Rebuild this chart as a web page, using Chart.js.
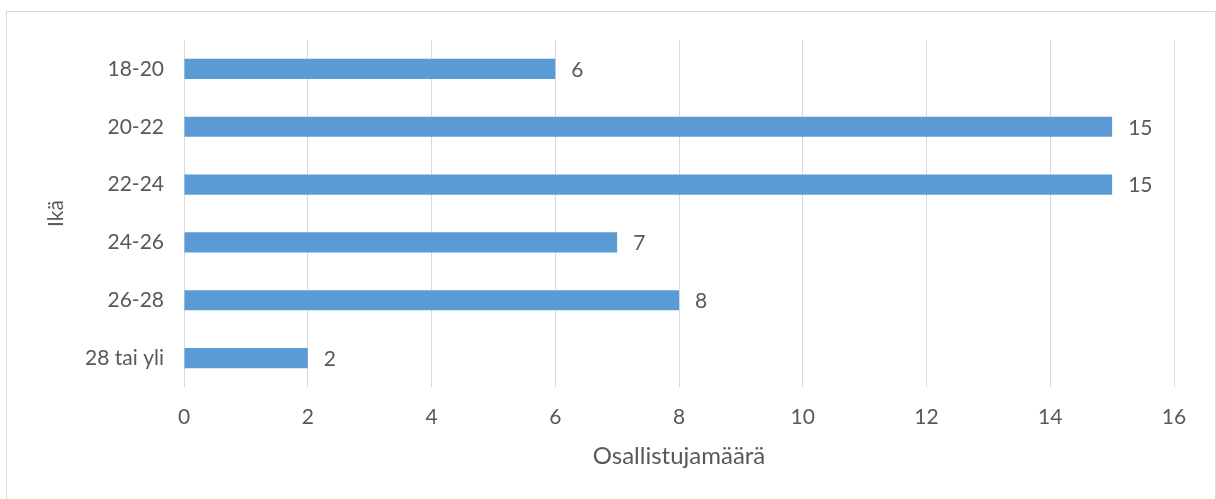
<!DOCTYPE html>
<html>
<head>
<meta charset="utf-8">
<script src="https://cdn.jsdelivr.net/npm/chart.js@4/dist/chart.umd.min.js"></script>
<style>
  html, body { margin: 0; padding: 0; background: #fff; overflow: hidden; }
  #frame {
    position: absolute; left: 6px; top: 11px;
    width: 1208px; height: 488px;
    border: 1px solid #d9d9d9;
  }
</style>
</head>
<body>
<div id="frame"><canvas id="ageChart" width="1208" height="488"></canvas></div>
<script>
const ageGroups = ['18-20', '20-22', '22-24', '24-26', '26-28', '28 tai yli'];
const participants = [6, 15, 15, 7, 8, 2];
const xTicksMax = 16;
const xTickStep = 2;

const textColor = '#595959';
const fontFamily = 'Lato, "Open Sans", sans-serif';

// value labels at bar ends
const barValueLabels = {
    id: 'barValueLabels',
    afterDatasetsDraw(chart) {
        const ctx = chart.ctx;
        const meta = chart.getDatasetMeta(0);
        ctx.save();
        ctx.font = '21px ' + fontFamily;
        ctx.fillStyle = textColor;
        ctx.textAlign = 'left';
        ctx.textBaseline = 'middle';
        meta.data.forEach((bar, i) => {
            ctx.fillText(String(participants[i]), bar.x + 16, bar.y + 1);
        });
        ctx.restore();
    }
};

new Chart(document.getElementById('ageChart'), {
    type: 'bar',
    data: {
        labels: ageGroups,
        datasets: [{
            label: 'Osallistujamäärä',
            data: participants,
            backgroundColor: '#5b9bd5',
            barPercentage: 0.35,
            categoryPercentage: 1
        }]
    },
    plugins: [barValueLabels],
    options: {
        indexAxis: 'y',
        responsive: false,
        animation: false,
        layout: { padding: { left: 0, right: 41, top: 28, bottom: 0 } },
        plugins: {
            legend: { display: false },
            tooltip: { enabled: false }
        },
        scales: {
            x: {
                min: 0,
                max: xTicksMax,
                ticks: {
                    stepSize: xTickStep,
                    color: textColor,
                    font: { family: fontFamily, size: 21 },
                    padding: 18
                },
                grid: { color: '#d9d9d9', lineWidth: 1, drawTicks: false },
                border: { display: false },
                title: {
                    display: true,
                    text: 'Osallistujamäärä',
                    color: textColor,
                    font: { family: fontFamily, size: 24 },
                    padding: { top: 0, bottom: 29 }
                },
                afterFit(scale) {
                    scale.height = 113;
                    scale.paddingLeft = 0;
                    scale.paddingRight = 0;
                }
            },
            y: {
                ticks: {
                    color: textColor,
                    font: { family: fontFamily, size: 21 },
                    padding: 20
                },
                grid: { display: false, drawTicks: false },
                border: { display: false },
                title: {
                    display: true,
                    text: 'Ikä',
                    color: textColor,
                    font: { family: fontFamily, size: 21 },
                    padding: { top: 37, bottom: 0 }
                },
                afterFit(scale) {
                    scale.width = 177;
                    scale.paddingTop = 0;
                    scale.paddingBottom = 0;
                }
            }
        }
    }
});
</script>
</body>
</html>
